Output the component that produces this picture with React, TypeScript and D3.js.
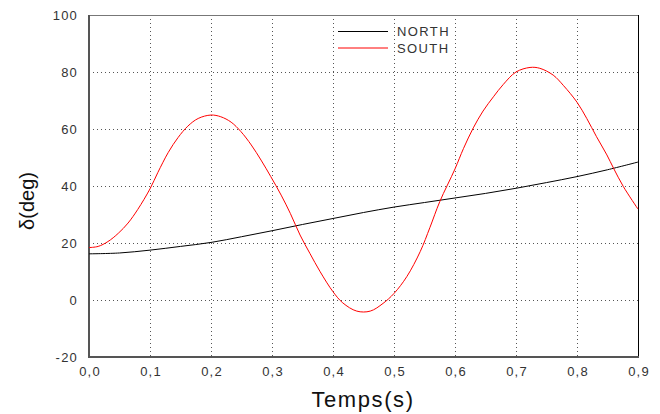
import React from "react";
import * as d3 from "d3";

const xTicks = [0, 0.1, 0.2, 0.3, 0.4, 0.5, 0.6, 0.7, 0.8, 0.9];
const yTicks = [-20, 0, 20, 40, 60, 80, 100];

const southT = [0, 0.015, 0.031, 0.048, 0.064, 0.08, 0.1, 0.113, 0.13, 0.146, 0.162, 0.179, 0.2, 0.216, 0.233, 0.249, 0.266, 0.282, 0.298, 0.315, 0.33, 0.346, 0.362, 0.379, 0.4, 0.416, 0.439, 0.461, 0.482, 0.5, 0.521, 0.543, 0.559, 0.575, 0.6, 0.614, 0.63, 0.646, 0.663, 0.679, 0.7, 0.723, 0.739, 0.761, 0.778, 0.8, 0.816, 0.832, 0.849, 0.86, 0.876, 0.9];
const southV = [18.4, 18.8, 20.5, 23.4, 27.0, 31.8, 39.0, 44.8, 51.8, 57.0, 61.0, 63.7, 64.9, 64.3, 62.4, 59.1, 54.4, 49.1, 43.3, 36.8, 30.4, 22.8, 16.4, 9.9, 2.9, -1.0, -3.9, -3.9, -1.2, 2.3, 8.2, 17.0, 25.5, 34.5, 46.0, 53.2, 60.4, 66.3, 71.3, 75.6, 80.0, 81.6, 81.3, 78.9, 75.2, 69.4, 63.7, 57.3, 50.9, 46.2, 39.8, 31.9];

const northT = [0, 0.05, 0.1, 0.15, 0.2, 0.25, 0.3, 0.35, 0.4, 0.45, 0.5, 0.55, 0.6, 0.65, 0.7, 0.75, 0.8, 0.85, 0.9];
const northV = [16.2, 16.5, 17.5, 18.8, 20.2, 22.2, 24.3, 26.5, 28.6, 30.7, 32.6, 34.2, 35.8, 37.4, 39.2, 41.2, 43.3, 45.7, 48.4];

const seriesNames = ["NORTH", "SOUTH"];
const seriesColors = ["#000000", "#ff0000"];

const W = 660, H = 414;
const L = 89, R = 638, T = 15, B = 357;

export default function App() {
  const x = d3.scaleLinear().domain([0, 0.9]).range([L, R]);
  const y = d3.scaleLinear().domain([-20, 100]).range([B, T]);
  const line = d3
    .line<[number, number]>()
    .x((d) => x(d[0]))
    .y((d) => y(d[1]))
    .curve(d3.curveCatmullRom.alpha(0.5));
  const north = northT.map((t, i) => [t, northV[i]] as [number, number]);
  const south = southT.map((t, i) => [t, southV[i]] as [number, number]);
  const font = "'Liberation Sans', Arial, sans-serif";
  return (
    <svg width={W} height={H} style={{ position: "absolute", left: 0, top: 0, background: "#fff" }}>
      <g stroke="#555" strokeWidth={1} strokeDasharray="1 3">
        {xTicks.slice(1, -1).map((t) => (
          <line key={"gx" + t} x1={x(t) + 0.5} x2={x(t) + 0.5} y1={T} y2={B} />
        ))}
        {yTicks.slice(1, -1).map((v) => (
          <line key={"gy" + v} x1={L} x2={R} y1={y(v) + 0.5} y2={y(v) + 0.5} />
        ))}
      </g>
      <line x1={L} x2={R} y1={T + 0.5} y2={T + 0.5} stroke="#777" strokeWidth={1} />
      <line x1={R + 0.5} x2={R + 0.5} y1={T} y2={B} stroke="#000" strokeWidth={1} />
      <line x1={L} x2={L} y1={T} y2={B + 1} stroke="#555" strokeWidth={2} />
      <line x1={L} x2={R + 1} y1={B} y2={B} stroke="#555" strokeWidth={2} />
      <path d={line(north) || ""} fill="none" stroke={seriesColors[0]} strokeWidth={1} />
      <path d={line(south) || ""} fill="none" stroke={seriesColors[1]} strokeWidth={1} />
      <g fontFamily={font} fontSize={13} fill="#333" letterSpacing={1.2}>
        {yTicks.map((v) => (
          <text key={"ty" + v} x={78} y={y(v) + 4.5} textAnchor="end">
            {v}
          </text>
        ))}
        {xTicks.map((t) => (
          <text key={"tx" + t} x={x(t) + 1} y={376} textAnchor="middle">
            {t.toFixed(1).replace(".", ",")}
          </text>
        ))}
      </g>
      <text x={363} y={407} textAnchor="middle" fontFamily={font} fontSize={22} letterSpacing={1.6} fill="#111">
        Temps(s)
      </text>
      <text transform={`translate(34,201) rotate(-90)`} textAnchor="middle" fontFamily={font} fontSize={20} fill="#111">
        δ(deg)
      </text>
      {seriesNames.map((n, i) => (
        <g key={n}>
          <line x1={338} x2={388} y1={31.5 + i * 16.5} y2={31.5 + i * 16.5} stroke={seriesColors[i]} strokeWidth={1} />
          <text x={397} y={36 + i * 16.5} fontFamily={font} fontSize={13} fill="#333" letterSpacing={1.4}>
            {n}
          </text>
        </g>
      ))}
    </svg>
  );
}
